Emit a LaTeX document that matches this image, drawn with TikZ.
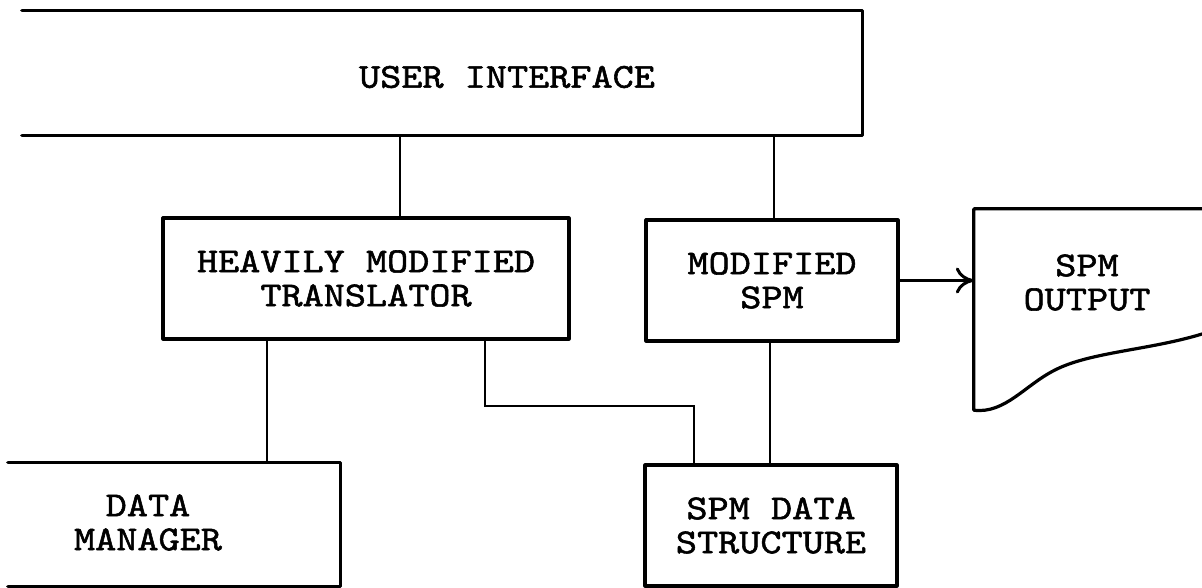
\documentclass[tikz,border=0pt]{standalone}
\usepackage{fontspec}
\newfontfamily\typewriter[FakeStretch=1.15, FakeBold=1.6]{lmmono10-regular.otf}
\usetikzlibrary{arrows.meta}

\begin{document}
\begin{tikzpicture}[x=1pt, y=-1pt,
  frame/.style={line width=3.2pt, line join=round, line cap=round},
  link/.style={line width=2pt},
  feed/.style={line width=3pt, -{To[length=18pt, width=26pt, line width=3pt]}},
  boxtext/.style={font=\typewriter\fontsize{35}{34}\selectfont, align=center},
  box/.style={draw, frame, boxtext, inner sep=0pt},
  openbox/.style={inner sep=0pt}]

  \useasboundingbox (0,0) rectangle (1202,588);

  % boxes; the ones cut at the sheet edge get their frames drawn below
  \node[openbox, minimum width=840pt, minimum height=124pt,
        label={[name=uitext, boxtext, xshift=65pt, yshift=-4pt]center:USER INTERFACE}]
        (ui) at (442,73) {};
  \node[box, minimum width=406pt, minimum height=121pt]
        (trans) at (366,278.5) {HEAVILY MODIFIED\\TRANSLATOR};
  \node[box, minimum width=252pt, minimum height=121pt]
        (spm) at (772,280.5) {MODIFIED\\SPM};
  \node[openbox, minimum width=332pt, minimum height=123pt,
        label={[name=dmtext, boxtext, xshift=-26pt, yshift=2pt]center:DATA\\MANAGER}]
        (dm) at (174,524.5) {};
  \node[box, minimum width=252pt, minimum height=121pt]
        (sds) at (771,525.5) {SPM DATA\\STRUCTURE};
  \node[openbox, minimum width=228pt, minimum height=201pt,
        label={[name=outtext, boxtext, xshift=-1pt, yshift=27pt]center:SPM\\OUTPUT}]
        (out) at (1088,309.5) {};

  % frames open at the sheet edge
  \draw[frame] (ui.north west) -- (ui.north east) -- (ui.south east) -- (ui.south west);
  \draw[frame] (dm.north west) -- (dm.north east) -- (dm.south east) -- (dm.south west);
  % output sheet with its torn lower edge
  \draw[frame] (out.north east) -- (out.north west) -- (out.south west)
    .. controls (1005,414) and (1025,385) .. (1055,370)
    .. controls (1090,352) and (1150,350) .. (1202,334);

  % connectors
  \draw[link] ([xshift=34pt]trans.north) -- ([xshift=34pt]trans.north |- ui.south);
  \draw[link] ([xshift=2pt]spm.north) -- ([xshift=2pt]spm.north |- ui.south);
  \draw[link] ([xshift=-99pt]trans.south) -- ([xshift=-99pt]trans.south |- dm.north);
  \draw[link] ([xshift=119pt]trans.south) -- ++(0,65) -| ([xshift=-77pt]sds.north);
  \draw[link] ([xshift=-2pt]spm.south) -- ([xshift=-2pt]spm.south |- sds.north);
  \draw[feed] (spm.east) -- (spm.east -| out.west);
\end{tikzpicture}
\end{document}
